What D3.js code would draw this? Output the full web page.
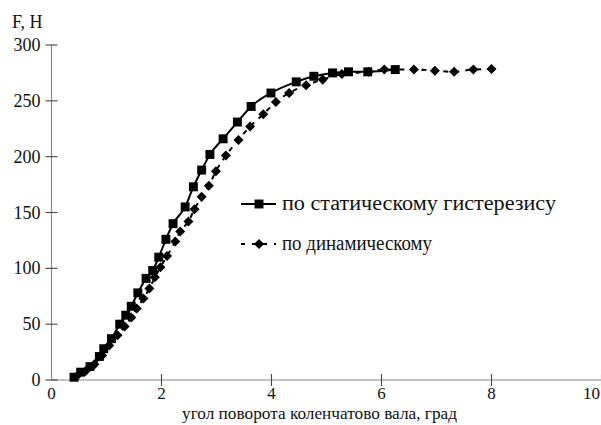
<!DOCTYPE html>
<html><head><meta charset="utf-8">
<script src="https://cdn.jsdelivr.net/npm/d3@7"></script>
<style>body{margin:0;background:#fff}svg{display:block}</style>
</head><body><svg id="c" width="601" height="425"></svg>
<script>
const staticX = [0.41,0.53,0.70,0.87,0.95,1.09,1.24,1.35,1.45,1.57,1.72,1.84,1.95,2.08,2.21,2.43,2.58,2.73,2.88,3.12,3.38,3.63,3.99,4.45,4.77,5.11,5.40,5.75,6.25];
const staticF = [2.5,7,12,21,28,37,50,58,66,78,91,98,110,126,140,155,173,188,202,216,231,245,257,267,272,275,276,276,278];
const dynX = [0.45,0.62,0.78,0.92,1.05,1.20,1.33,1.45,1.55,1.67,1.78,1.88,1.98,2.10,2.25,2.34,2.49,2.60,2.73,2.86,2.99,3.17,3.40,3.61,3.85,4.08,4.32,4.63,4.93,5.28,5.77,6.05,6.59,6.97,7.32,7.67,8.00];
const dynF = [3,8,14,22,31,40,48,56,64,73,82,92,101,111,124,133,142,153,164,174,187,201,215,227,238,249,257,264,269,274,276,278,278,277,276,278,278.5];
const xTicks = [0,2,4,6,8,10];
const yTicks = [0,50,100,150,200,250,300];
const seriesNames = ["по статическому гистерезису","по динамическому"];
const xTitle = "угол поворота коленчатово вала, град";
const yTitle = "F, H";

const svg = d3.select("#c");
const x = d3.scaleLinear().domain([0,10]).range([51.5,601.5]);
const y = d3.scaleLinear().domain([0,300]).range([380,45]);
const axisCol = "#8a8a8a";
const txt = (xx,yy,s,anchor,fs)=>svg.append("text").attr("x",xx).attr("y",yy).attr("text-anchor",anchor||"start")
  .style("font-family","Liberation Serif").style("font-size",(fs||18)+"px").attr("fill","#111").text(s);

svg.append("line").attr("x1",x(0)).attr("x2",x(10)).attr("y1",y(0)).attr("y2",y(0)).attr("stroke",axisCol).attr("stroke-width",1.2);
svg.append("line").attr("x1",x(0)).attr("x2",x(0)).attr("y1",y(0)).attr("y2",y(300)).attr("stroke",axisCol).attr("stroke-width",1.2);
yTicks.forEach(t=>{
  svg.append("line").attr("x1",x(0)-6).attr("x2",x(0)+6).attr("y1",y(t)).attr("y2",y(t)).attr("stroke","#444").attr("stroke-width",1.1);
  txt(x(0)-11,y(t)+6,t,"end");
});
xTicks.forEach(t=>{
  if(t>0) svg.append("line").attr("x1",x(t)).attr("x2",x(t)).attr("y1",y(0)-6).attr("y2",y(0)+6).attr("stroke","#444").attr("stroke-width",1.1);
  txt(t===10?x(t)-10:x(t),399,t,"middle",17);
});
txt(12,28,yTitle);
txt(319.5,419,xTitle,"middle",17).attr("textLength",275).attr("lengthAdjust","spacingAndGlyphs");

const sData = staticX.map((v,i)=>[v,staticF[i]]);
const dData = dynX.map((v,i)=>[v,dynF[i]]);
const line = d3.line().x(d=>x(d[0])).y(d=>y(d[1])).curve(d3.curveMonotoneX);

svg.append("path").attr("d",line(dData)).attr("fill","none").attr("stroke","#000").attr("stroke-width",2).attr("stroke-dasharray","5,6");
svg.append("path").attr("d",line(sData)).attr("fill","none").attr("stroke","#000").attr("stroke-width",2);

const sq = d3.symbol().type(d3.symbolSquare).size(80);
const dm = d3.symbol().type(d3.symbolDiamond2).size(64);
svg.selectAll(".d").data(dData).join("path").attr("d",dm).attr("transform",d=>`translate(${x(d[0])},${y(d[1])})`).attr("fill","#000");
svg.selectAll(".s").data(sData).join("path").attr("d",sq).attr("transform",d=>`translate(${x(d[0])},${y(d[1])})`).attr("fill","#000");

svg.append("line").attr("x1",241).attr("x2",276).attr("y1",204).attr("y2",204).attr("stroke","#000").attr("stroke-width",2);
svg.append("path").attr("d",sq).attr("transform","translate(259,204)").attr("fill","#000");
svg.append("line").attr("x1",241).attr("x2",276).attr("y1",244).attr("y2",244).attr("stroke","#000").attr("stroke-width",2).attr("stroke-dasharray","4,7");
svg.append("path").attr("d",dm).attr("transform","translate(259,244)").attr("fill","#000");
txt(282,210,seriesNames[0],"start",20).attr("textLength",274).attr("lengthAdjust","spacingAndGlyphs");
txt(282,250,seriesNames[1],"start",20).attr("textLength",150).attr("lengthAdjust","spacingAndGlyphs");
</script></body></html>
